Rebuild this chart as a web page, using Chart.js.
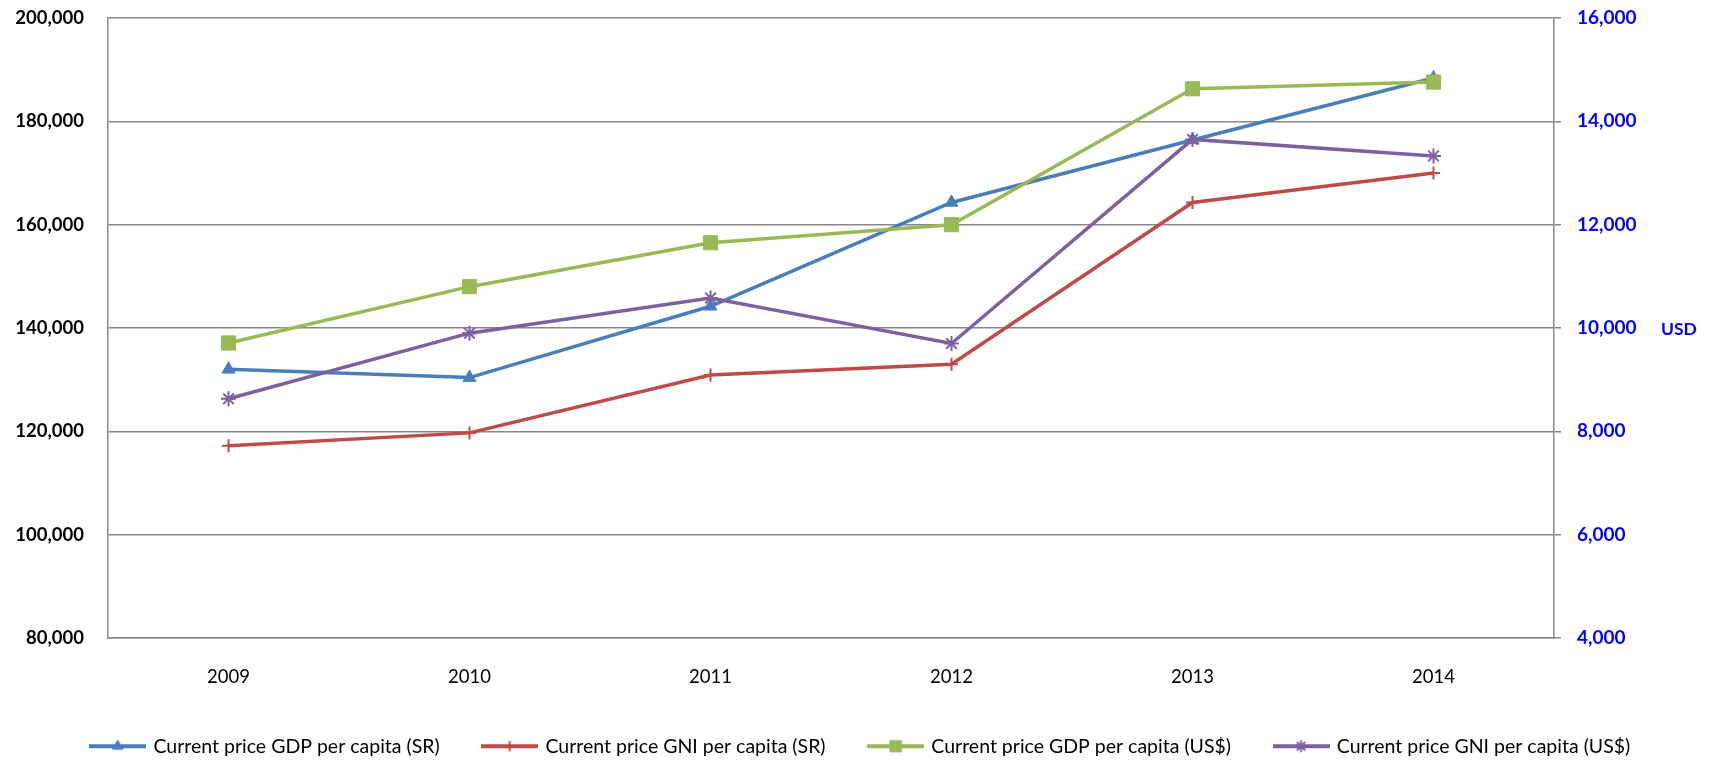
<!DOCTYPE html>
<html><head><meta charset="utf-8">
<script src="https://cdn.jsdelivr.net/npm/chart.js@4/dist/chart.umd.min.js"></script>
<style>html,body{margin:0;padding:0;background:#fff}#wrap{width:1722px;height:763px;position:relative}</style>
</head><body><div id="wrap"><canvas id="c"></canvas></div>
<script>
const years = ['2009', '2010', '2011', '2012', '2013', '2014'];
const gdpSR = [132000, 130400, 144200, 164300, 176400, 188400];
const gniSR = [117200, 119700, 130900, 133000, 164300, 170000];
const gdpUSD = [9710, 10800, 11650, 12000, 14630, 14760];
const gniUSD = [8630, 9900, 10580, 9700, 13650, 13330];
const seriesNames = ['Current price GDP per capita (SR)', 'Current price GNI per capita (SR)', 'Current price GDP per capita (US$)', 'Current price GNI per capita (US$)'];
const leftTickValues = [80000, 100000, 120000, 140000, 160000, 180000, 200000];
const rightTickValues = [4000, 6000, 8000, 10000, 12000, 14000, 16000];
const rightUnit = 'USD';

const colors = ['#4A7EBB', '#BE4B48', '#98B954', '#7D60A0'];
const styles = ['triangle', 'cross', 'rect', 'star'];
const radii = [7.5, 6.5, 10, 7.5];
const bw = [1, 2, 1, 2];

function legendIcon(i) {
  const cv = document.createElement('canvas');
  cv.width = 57; cv.height = 18;
  const g = cv.getContext('2d');
  g.strokeStyle = colors[i]; g.lineWidth = 4;
  g.beginPath(); g.moveTo(0, 9); g.lineTo(57, 9); g.stroke();
  g.fillStyle = colors[i]; g.strokeStyle = colors[i]; g.lineWidth = bw[i];
  Chart.helpers.drawPoint(g, {pointStyle: styles[i], radius: radii[i] * 0.8, rotation: 0, borderWidth: bw[i]}, 28.5, 9);
  return cv;
}
const icons = [0, 1, 2, 3].map(legendIcon);

const FONT = 'Lato';
const LEG_FONT = 19.5;
const LEG_PAD = 44;
const BOTTOM_PAD = -3;
const PLOT_BOTTOM = 638;
const dataArrays = [gdpSR, gniSR, gdpUSD, gniUSD];
const datasets = dataArrays.map((d, i) => ({
  label: seriesNames[i],
  data: d,
  yAxisID: i < 2 ? 'y' : 'y2',
  borderColor: colors[i],
  backgroundColor: colors[i],
  borderWidth: 3.5,
  pointStyle: styles[i],
  pointRadius: radii[i],
  pointHoverRadius: radii[i],
  pointBorderWidth: bw[i],
  pointBackgroundColor: colors[i],
  pointBorderColor: colors[i],
  tension: 0,
  order: 3 - i
}));

const usdPlugin = {
  id: 'usd',
  afterDraw(chart) {
    const s = chart.scales.y2, ctx = chart.ctx;
    ctx.save();
    ctx.font = 'bold 17.5px ' + FONT;
    ctx.fillStyle = '#0000FF';
    ctx.textBaseline = 'middle';
    ctx.textAlign = 'left';
    ctx.fillText(rightUnit, 1661, s.getPixelForValue(10000) + 1);
    ctx.restore();
  }
};

function noPad(s) { s.paddingTop = 0; s.paddingBottom = 0; }

new Chart(document.getElementById('c'), {
  type: 'line',
  data: { labels: years, datasets },
  plugins: [usdPlugin],
  options: {
    responsive: true,
    maintainAspectRatio: false,
    animation: false,
    layout: { padding: { top: 18, bottom: BOTTOM_PAD, left: 0, right: 0 } },
    plugins: {
      tooltip: { enabled: false },
      legend: {
        position: 'bottom',
        labels: {
          usePointStyle: true,
          pointStyleWidth: 52,
          boxHeight: LEG_FONT,
          padding: LEG_PAD,
          color: '#000',
          font: { family: FONT, size: LEG_FONT },
          generateLabels(chart) {
            const items = Chart.defaults.plugins.legend.labels.generateLabels(chart);
            items.forEach(it => { it.pointStyle = icons[it.datasetIndex]; });
            return items.sort((a, b) => a.datasetIndex - b.datasetIndex);
          }
        }
      }
    },
    scales: {
      x: {
        offset: true,
        grid: { display: false, drawTicks: false },
        border: { display: true, color: '#888', width: 1.5 },
        ticks: { color: '#000', font: { family: FONT, size: 18.5 }, padding: 28, maxRotation: 0 },
        afterFit(s) { s.height = 763 - BOTTOM_PAD - (LEG_FONT + LEG_PAD + 10) - PLOT_BOTTOM; }
      },
      y: {
        position: 'left',
        min: 80000, max: 200000,
        afterBuildTicks(s) { s.ticks = leftTickValues.map(v => ({ value: v })); },
        grid: { color: '#888', lineWidth: 1.5, drawTicks: false },
        border: { display: true, color: '#888', width: 1.5 },
        ticks: {
          color: '#000', padding: 24,
          font: { family: FONT, size: 18.5, weight: 'bold' },
          callback: v => v.toLocaleString('en-US')
        },
        afterFit(s) { s.width = 108; noPad(s); }
      },
      y2: {
        position: 'right',
        min: 4000, max: 16000,
        afterBuildTicks(s) { s.ticks = rightTickValues.map(v => ({ value: v })); },
        grid: { drawOnChartArea: false, drawTicks: true, tickLength: 7, color: '#888', lineWidth: 1.5 },
        border: { display: true, color: '#888', width: 1.5 },
        ticks: {
          color: '#0000FF', padding: 16,
          font: { family: FONT, size: 19, weight: 'bold' },
          callback: v => v.toLocaleString('en-US')
        },
        afterFit(s) { s.width = 168; noPad(s); }
      }
    }
  }
});
</script></body></html>
